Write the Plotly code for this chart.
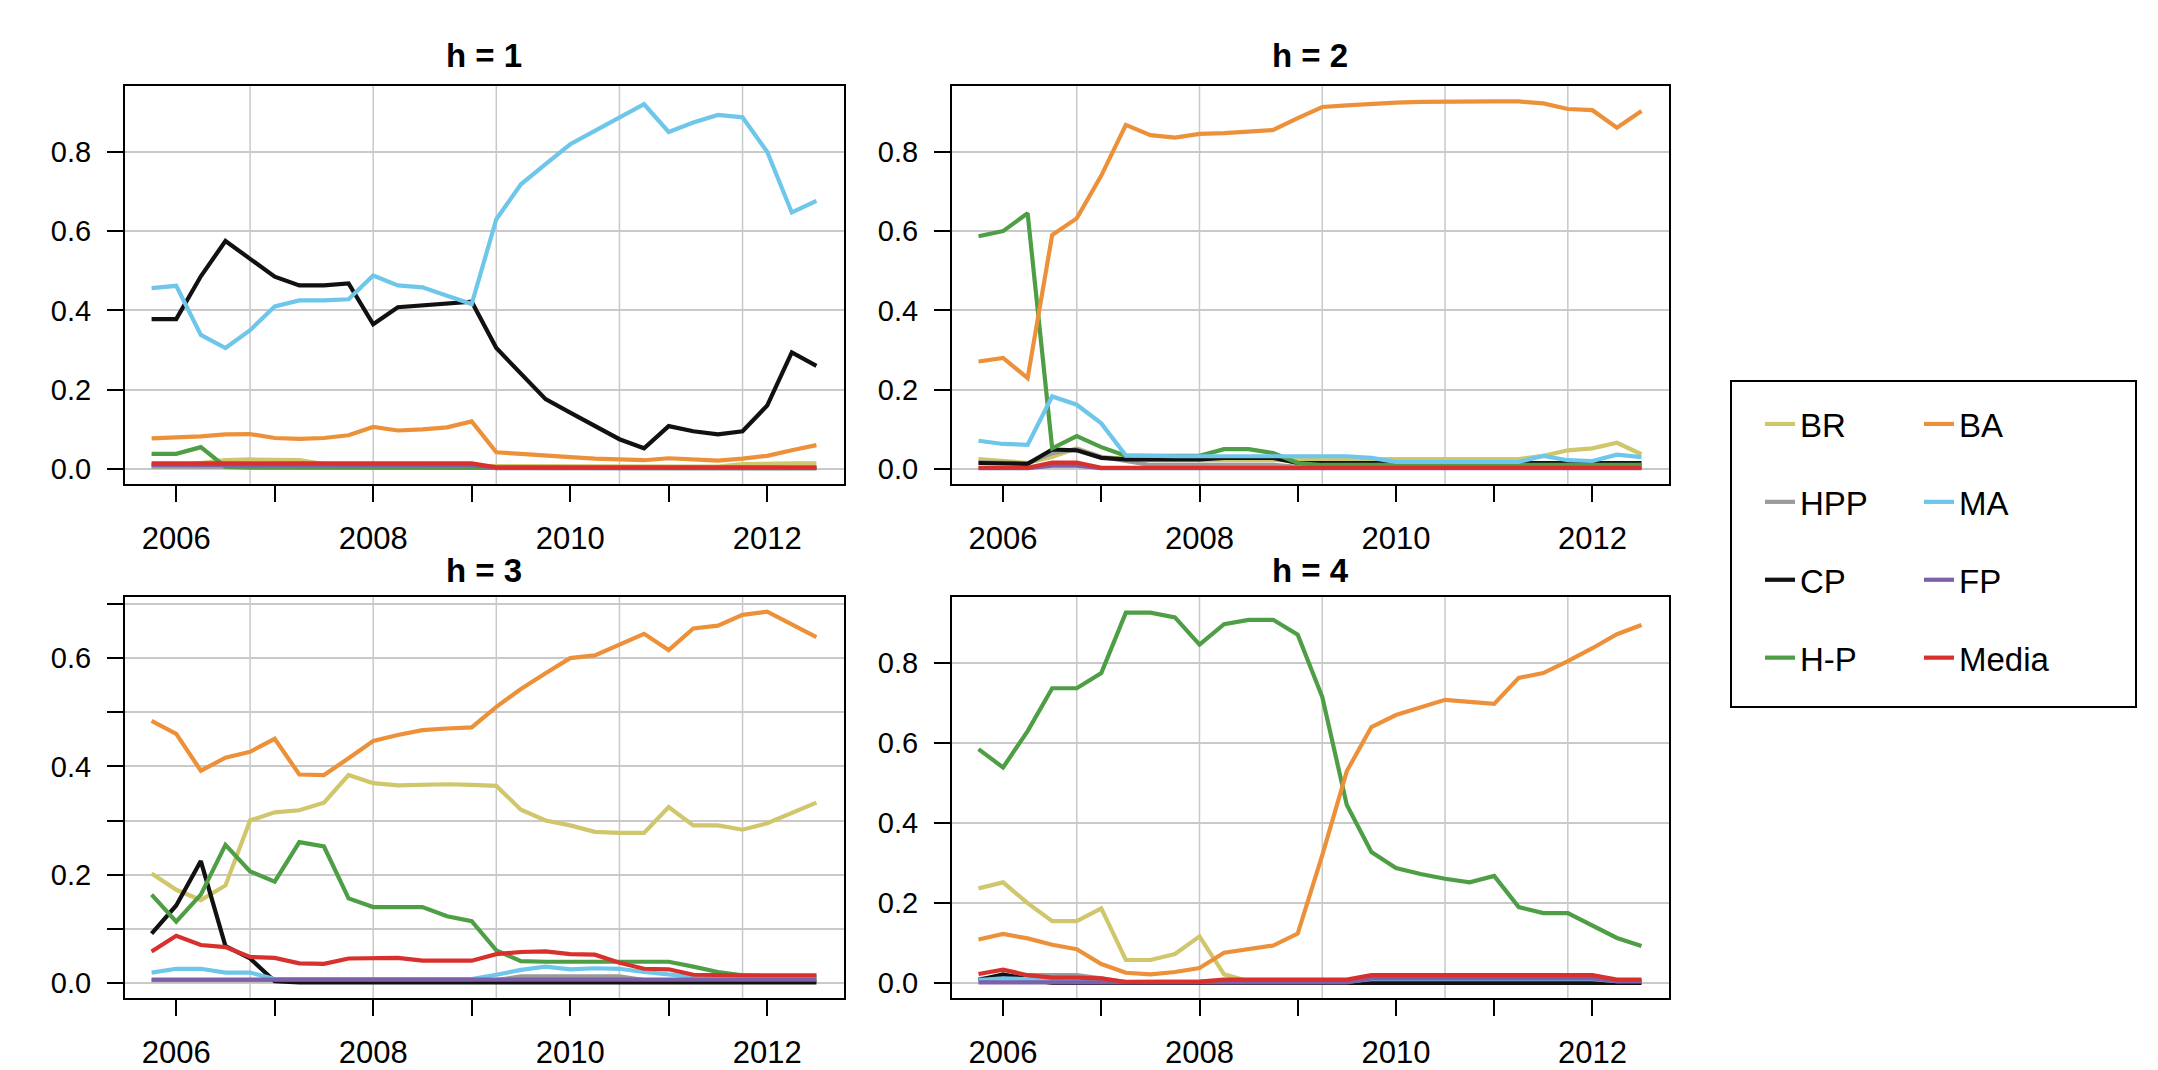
import plotly.graph_objects as go

# ---------------- data ----------------
quarters = [2005.75, 2006.0, 2006.25, 2006.5, 2006.75, 2007.0, 2007.25, 2007.5,
            2007.75, 2008.0, 2008.25, 2008.5, 2008.75, 2009.0, 2009.25, 2009.5,
            2009.75, 2010.0, 2010.25, 2010.5, 2010.75, 2011.0, 2011.25, 2011.5,
            2011.75, 2012.0, 2012.25, 2012.5]

series_names = ["BR", "HPP", "CP", "H-P", "BA", "MA", "FP", "Media"]
series_colors = ["#D0C66C", "#9B9B9B", "#111111", "#4E9E45",
                 "#EC913A", "#6EC6EA", "#7D60A8", "#D8312D"]

panel_titles = ["h = 1", "h = 2", "h = 3", "h = 4"]

x_tick_vals = [2006, 2007, 2008, 2009, 2010, 2011, 2012]
x_tick_text = ["2006", "", "2008", "", "2010", "", "2012"]
x_grid_vals = [2006.75, 2008.0, 2009.25, 2010.5, 2011.75]

y_tick_vals_main = [0.0, 0.2, 0.4, 0.6, 0.8]
y_tick_text_main = ["0.0", "0.2", "0.4", "0.6", "0.8"]
y_tick_vals_h3 = [0.0, 0.1, 0.2, 0.3, 0.4, 0.5, 0.6, 0.7]
y_tick_text_h3 = ["0.0", "", "0.2", "", "0.4", "", "0.6", ""]

# h = 1
h1_BR = [0.005, 0.008, 0.015, 0.022, 0.024, 0.024, 0.022, 0.012, 0.008, 0.008, 0.008, 0.008, 0.008, 0.008,
         0.006, 0.006, 0.006, 0.006, 0.006, 0.006, 0.006, 0.006, 0.006, 0.006, 0.012, 0.014, 0.014, 0.014]
h1_HPP = [0.006, 0.006, 0.006, 0.005, 0.004, 0.004, 0.004, 0.004, 0.004, 0.004, 0.004, 0.004, 0.004, 0.004,
          0.003, 0.003, 0.003, 0.003, 0.003, 0.003, 0.003, 0.003, 0.003, 0.003, 0.003, 0.003, 0.003, 0.003]
h1_CP = [0.378, 0.378, 0.486, 0.575, 0.530, 0.485, 0.463, 0.463, 0.468, 0.365, 0.408, 0.413, 0.418, 0.422,
         0.305, 0.240, 0.176, 0.142, 0.109, 0.075, 0.052, 0.108, 0.095, 0.087, 0.095, 0.160, 0.294, 0.260]
h1_HP = [0.038, 0.038, 0.055, 0.005, 0.003, 0.003, 0.003, 0.003, 0.003, 0.003, 0.003, 0.003, 0.003, 0.003,
         0.002, 0.002, 0.002, 0.002, 0.002, 0.002, 0.002, 0.002, 0.002, 0.002, 0.002, 0.002, 0.002, 0.002]
h1_BA = [0.077, 0.079, 0.082, 0.087, 0.088, 0.078, 0.076, 0.078, 0.085, 0.106, 0.097, 0.100, 0.105, 0.120,
         0.042, 0.038, 0.033, 0.030, 0.026, 0.023, 0.022, 0.027, 0.024, 0.021, 0.026, 0.033, 0.047, 0.060]
h1_MA = [0.456, 0.462, 0.338, 0.305, 0.350, 0.410, 0.425, 0.425, 0.428, 0.488, 0.463, 0.458, 0.437, 0.416,
         0.630, 0.718, 0.769, 0.819, 0.853, 0.888, 0.920, 0.850, 0.874, 0.893, 0.887, 0.800, 0.647, 0.676]
h1_FP = [0.010, 0.010, 0.010, 0.010, 0.010, 0.010, 0.010, 0.010, 0.010, 0.010, 0.010, 0.010, 0.010, 0.010,
         0.002, 0.002, 0.002, 0.002, 0.002, 0.002, 0.002, 0.002, 0.002, 0.002, 0.002, 0.002, 0.002, 0.002]
h1_Media = [0.014, 0.014, 0.014, 0.014, 0.014, 0.014, 0.014, 0.014, 0.014, 0.014, 0.014, 0.014, 0.014, 0.014,
            0.004, 0.004, 0.004, 0.004, 0.004, 0.004, 0.004, 0.004, 0.004, 0.004, 0.004, 0.004, 0.004, 0.004]

# h = 2
h2_BR = [0.025, 0.020, 0.015, 0.030, 0.052, 0.030, 0.025, 0.022, 0.022, 0.022, 0.022, 0.022, 0.022, 0.022,
         0.022, 0.025, 0.025, 0.025, 0.025, 0.025, 0.025, 0.025, 0.025, 0.033, 0.047, 0.052, 0.066, 0.037]
h2_HPP = [0.017, 0.016, 0.014, 0.040, 0.050, 0.030, 0.020, 0.010, 0.010, 0.010, 0.010, 0.010, 0.010, 0.005,
          0.005, 0.005, 0.005, 0.005, 0.005, 0.005, 0.005, 0.005, 0.005, 0.005, 0.005, 0.005, 0.005, 0.005]
h2_CP = [0.015, 0.014, 0.013, 0.049, 0.047, 0.028, 0.024, 0.024, 0.024, 0.024, 0.028, 0.029, 0.028, 0.015,
         0.015, 0.015, 0.015, 0.015, 0.015, 0.015, 0.015, 0.015, 0.015, 0.015, 0.015, 0.015, 0.015, 0.015]
h2_HP = [0.587, 0.600, 0.645, 0.052, 0.083, 0.055, 0.033, 0.033, 0.033, 0.033, 0.050, 0.050, 0.040, 0.015,
         0.010, 0.010, 0.010, 0.010, 0.010, 0.010, 0.010, 0.010, 0.010, 0.010, 0.010, 0.010, 0.010, 0.010]
h2_BA = [0.271, 0.280, 0.229, 0.590, 0.632, 0.740, 0.868, 0.842, 0.836, 0.845, 0.847, 0.850, 0.855, 0.885,
         0.913, 0.917, 0.921, 0.924, 0.926, 0.927, 0.927, 0.927, 0.927, 0.922, 0.908, 0.905, 0.861, 0.903]
h2_MA = [0.071, 0.063, 0.061, 0.183, 0.162, 0.115, 0.034, 0.032, 0.032, 0.032, 0.032, 0.032, 0.032, 0.032,
         0.032, 0.032, 0.028, 0.018, 0.018, 0.018, 0.018, 0.018, 0.018, 0.033, 0.022, 0.020, 0.036, 0.030]
h2_FP = [0.002, 0.002, 0.002, 0.008, 0.008, 0.002, 0.002, 0.002, 0.002, 0.002, 0.002, 0.002, 0.002, 0.002,
         0.002, 0.002, 0.002, 0.002, 0.002, 0.002, 0.002, 0.002, 0.002, 0.002, 0.002, 0.002, 0.002, 0.002]
h2_Media = [0.003, 0.003, 0.003, 0.016, 0.016, 0.003, 0.003, 0.003, 0.003, 0.003, 0.003, 0.003, 0.003, 0.003,
            0.003, 0.003, 0.003, 0.003, 0.003, 0.003, 0.003, 0.003, 0.003, 0.003, 0.003, 0.003, 0.003, 0.003]

# h = 3
h3_BR = [0.202, 0.172, 0.153, 0.180, 0.300, 0.315, 0.319, 0.333, 0.384, 0.369, 0.365, 0.366, 0.367, 0.366,
         0.364, 0.320, 0.300, 0.291, 0.279, 0.277, 0.277, 0.325, 0.291, 0.291, 0.283, 0.295, 0.315, 0.333]
h3_HPP = [0.005, 0.005, 0.005, 0.005, 0.005, 0.005, 0.005, 0.005, 0.005, 0.005, 0.005, 0.005, 0.005, 0.005,
          0.005, 0.012, 0.012, 0.012, 0.012, 0.012, 0.005, 0.005, 0.005, 0.005, 0.005, 0.005, 0.005, 0.005]
h3_CP = [0.091, 0.143, 0.225, 0.068, 0.045, 0.003, 0.001, 0.001, 0.001, 0.001, 0.001, 0.001, 0.001, 0.001,
         0.001, 0.001, 0.001, 0.001, 0.001, 0.001, 0.001, 0.001, 0.001, 0.001, 0.001, 0.001, 0.001, 0.001]
h3_HP = [0.163, 0.113, 0.163, 0.255, 0.206, 0.187, 0.260, 0.252, 0.156, 0.140, 0.140, 0.140, 0.123, 0.114,
         0.060, 0.040, 0.039, 0.039, 0.039, 0.039, 0.039, 0.039, 0.030, 0.020, 0.014, 0.012, 0.012, 0.012]
h3_BA = [0.484, 0.460, 0.392, 0.416, 0.427, 0.451, 0.385, 0.384, 0.415, 0.447, 0.458, 0.467, 0.470, 0.472,
         0.510, 0.543, 0.572, 0.600, 0.605, 0.625, 0.645, 0.615, 0.655, 0.660, 0.680, 0.686, 0.662, 0.639]
h3_MA = [0.019, 0.026, 0.026, 0.019, 0.019, 0.007, 0.007, 0.007, 0.007, 0.007, 0.007, 0.007, 0.007, 0.007,
         0.015, 0.024, 0.030, 0.025, 0.027, 0.026, 0.020, 0.016, 0.011, 0.010, 0.010, 0.010, 0.010, 0.010]
h3_FP = [0.006, 0.006, 0.006, 0.006, 0.006, 0.006, 0.006, 0.006, 0.006, 0.006, 0.006, 0.006, 0.006, 0.006,
         0.006, 0.006, 0.006, 0.006, 0.006, 0.006, 0.006, 0.006, 0.006, 0.006, 0.006, 0.006, 0.006, 0.006]
h3_Media = [0.058, 0.087, 0.070, 0.066, 0.048, 0.046, 0.036, 0.035, 0.045, 0.046, 0.046, 0.041, 0.041, 0.041,
            0.053, 0.057, 0.058, 0.053, 0.052, 0.037, 0.026, 0.025, 0.015, 0.014, 0.014, 0.014, 0.014, 0.014]

# h = 4
h4_BR = [0.237, 0.252, 0.200, 0.155, 0.155, 0.187, 0.058, 0.058, 0.073, 0.117, 0.022, 0.005, 0.003, 0.003,
         0.003, 0.003, 0.003, 0.003, 0.003, 0.003, 0.003, 0.003, 0.003, 0.003, 0.003, 0.003, 0.003, 0.003]
h4_HPP = [0.010, 0.018, 0.020, 0.020, 0.020, 0.012, 0.003, 0.003, 0.003, 0.003, 0.003, 0.003, 0.003, 0.003,
          0.003, 0.003, 0.003, 0.003, 0.003, 0.003, 0.003, 0.003, 0.003, 0.003, 0.003, 0.003, 0.003, 0.003]
h4_CP = [0.008, 0.022, 0.010, 0.001, 0.001, 0.001, 0.001, 0.001, 0.001, 0.001, 0.001, 0.001, 0.001, 0.001,
         0.001, 0.001, 0.001, 0.001, 0.001, 0.001, 0.001, 0.001, 0.001, 0.001, 0.001, 0.001, 0.001, 0.001]
h4_HP = [0.585, 0.539, 0.630, 0.737, 0.737, 0.775, 0.926, 0.926, 0.914, 0.846, 0.897, 0.908, 0.908, 0.871,
         0.715, 0.445, 0.328, 0.288, 0.273, 0.261, 0.252, 0.268, 0.190, 0.175, 0.175, 0.144, 0.113, 0.093]
h4_BA = [0.109, 0.123, 0.112, 0.096, 0.085, 0.048, 0.026, 0.022, 0.028, 0.038, 0.076, 0.085, 0.094, 0.124,
         0.320, 0.530, 0.640, 0.670, 0.690, 0.708, 0.703, 0.698, 0.763, 0.775, 0.805, 0.837, 0.872, 0.895]
h4_MA = [0.008, 0.012, 0.010, 0.005, 0.004, 0.004, 0.004, 0.004, 0.004, 0.004, 0.004, 0.004, 0.004, 0.004,
         0.004, 0.004, 0.010, 0.010, 0.010, 0.010, 0.010, 0.010, 0.010, 0.010, 0.010, 0.010, 0.005, 0.005]
h4_FP = [0.002, 0.002, 0.002, 0.002, 0.002, 0.002, 0.002, 0.002, 0.002, 0.002, 0.002, 0.002, 0.002, 0.002,
         0.002, 0.002, 0.012, 0.012, 0.012, 0.012, 0.012, 0.012, 0.012, 0.012, 0.012, 0.012, 0.005, 0.005]
h4_Media = [0.023, 0.034, 0.020, 0.014, 0.014, 0.012, 0.003, 0.003, 0.003, 0.004, 0.009, 0.009, 0.009, 0.009,
            0.009, 0.009, 0.020, 0.020, 0.020, 0.020, 0.020, 0.020, 0.020, 0.020, 0.020, 0.020, 0.009, 0.009]

panels = [
    [h1_BR, h1_HPP, h1_CP, h1_HP, h1_BA, h1_MA, h1_FP, h1_Media],
    [h2_BR, h2_HPP, h2_CP, h2_HP, h2_BA, h2_MA, h2_FP, h2_Media],
    [h3_BR, h3_HPP, h3_CP, h3_HP, h3_BA, h3_MA, h3_FP, h3_Media],
    [h4_BR, h4_HPP, h4_CP, h4_HP, h4_BA, h4_MA, h4_FP, h4_Media],
]

# ---------------- layout geometry ----------------
W, H = 2158, 1070
FONT = "Liberation Sans, Arial, Helvetica, sans-serif"
GRID = "#C9C9C9"

def px_x(v):
    return v / W

def px_y(v):
    return 1 - v / H

x_domains = [[px_x(117), px_x(836)], [px_x(944), px_x(1661)],
             [px_x(117), px_x(836)], [px_x(944), px_x(1661)]]
y_domains = [[px_y(476), px_y(78)], [px_y(476), px_y(78)],
             [px_y(990), px_y(589)], [px_y(990), px_y(589)]]
y_ranges = [[-0.038, 0.966], [-0.038, 0.966], [-0.028, 0.713], [-0.037, 0.965]]

fig = go.Figure()

for p, series in enumerate(panels):
    sfx = "" if p == 0 else str(p + 1)
    for i, name in enumerate(series_names):
        fig.add_trace(go.Scatter(
            x=quarters, y=series[i], mode="lines", name=name,
            line=dict(color=series_colors[i], width=4.2),
            xaxis="x" + sfx, yaxis="y" + sfx,
            legendgroup=name, showlegend=(p == 0),
            legend="legend" if i < 4 else "legend2",
        ))

layout = dict(
    width=W, height=H, autosize=False,
    margin=dict(l=0, r=0, t=0, b=0),
    paper_bgcolor="white", plot_bgcolor="white",
    font=dict(family=FONT, color="black"),
    showlegend=True,
)

for p in range(4):
    sfx = "" if p == 0 else str(p + 1)
    is_h3 = (p == 2)
    layout["xaxis" + sfx] = dict(
        domain=x_domains[p], range=[2005.48, 2012.78], anchor="y" + sfx,
        tickmode="array", tickvals=x_tick_vals, ticktext=x_tick_text,
        ticks="outside", ticklen=16, tickwidth=2, tickcolor="black",
        tickfont=dict(size=31, family=FONT, color="black"),
        ticklabelstandoff=10,
        showgrid=False, zeroline=False,
        showline=True, mirror=True, linecolor="black", linewidth=2,
    )
    layout["yaxis" + sfx] = dict(
        domain=y_domains[p], range=y_ranges[p], anchor="x" + sfx,
        tickmode="array",
        tickvals=y_tick_vals_h3 if is_h3 else y_tick_vals_main,
        ticktext=y_tick_text_h3 if is_h3 else y_tick_text_main,
        ticks="outside", ticklen=16, tickwidth=2, tickcolor="black",
        tickfont=dict(size=29, family=FONT, color="black"),
        ticklabelstandoff=10,
        showgrid=True, gridcolor=GRID, gridwidth=1.5, zeroline=False,
        showline=True, mirror=True, linecolor="black", linewidth=2,
    )

shapes = []
for p in range(4):
    sfx = "" if p == 0 else str(p + 1)
    for gx in x_grid_vals:
        shapes.append(dict(type="line", layer="below",
                           xref="x" + sfx, yref="y" + sfx + " domain",
                           x0=gx, x1=gx, y0=0, y1=1,
                           line=dict(color=GRID, width=1.5)))
# legend frame
shapes.append(dict(type="rect", xref="paper", yref="paper",
                   x0=px_x(1723), x1=px_x(2128), y0=px_y(699), y1=px_y(373),
                   line=dict(color="black", width=2), fillcolor="rgba(0,0,0,0)"))
layout["shapes"] = shapes

title_pos = [(476, 48), (1302, 48), (476, 562), (1302, 562)]
layout["annotations"] = [
    dict(text="<b>%s</b>" % panel_titles[p], xref="paper", yref="paper",
         x=px_x(title_pos[p][0]), y=px_y(title_pos[p][1]),
         xanchor="center", yanchor="middle", showarrow=False,
         font=dict(size=33, family=FONT, color="black"))
    for p in range(4)
]

legend_common = dict(orientation="v", xanchor="left", yanchor="top",
                     font=dict(size=33, family=FONT, color="black"),
                     bgcolor="rgba(0,0,0,0)", borderwidth=0,
                     tracegroupgap=32, itemwidth=30)
layout["legend"] = dict(legend_common, x=px_x(1752), y=px_y(388))
layout["legend2"] = dict(legend_common, x=px_x(1911), y=px_y(388))

fig.update_layout(**layout)
fig.write_html("out.html")
